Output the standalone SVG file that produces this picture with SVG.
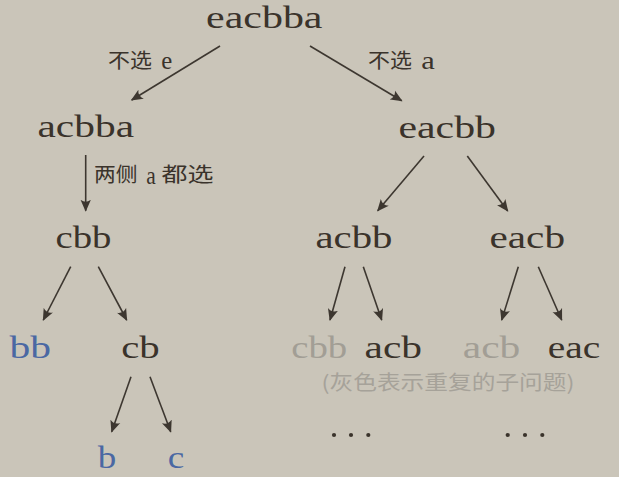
<svg xmlns="http://www.w3.org/2000/svg" width="619" height="477" viewBox="0 0 619 477">
  <style>
    .n { font-family: "Liberation Serif", "Times New Roman", serif; font-size: 32px; fill: #3a332b; }
    .blue { fill: #4a68a3; }
    .dup { fill: #a29e95; }
    .cjk { font-family: "Noto Sans CJK SC", "Noto Sans", sans-serif; font-size: 20px; fill: #3a332b; }
    .lat { font-family: "Liberation Serif", "Times New Roman", serif; font-size: 25px; fill: #3a332b; }
    .cap { font-family: "Noto Sans CJK SC", "Noto Sans", sans-serif; font-size: 20px; fill: #a6a299; }
    .e { stroke: #3d3730; stroke-width: 1.6; fill: none; marker-end: url(#ah); }
    .dot { fill: #3a332b; }
  </style>
  <defs>
    <marker id="ah" markerUnits="userSpaceOnUse" markerWidth="16" markerHeight="12" refX="11" refY="6" orient="auto" viewBox="0 0 16 12">
      <path d="M12,6 L0,0.8 Q4,6 0,11.2 Z" fill="#3d3730"/>
    </marker>
  </defs>
  <rect width="619" height="477" fill="#cac5b9"/>

  <g id="connectors">
    <line class="e" x1="220" y1="46" x2="131.7" y2="100"/>
    <line class="e" x1="310" y1="46" x2="401.7" y2="100.7"/>
    <line class="e" x1="85.7" y1="155" x2="85.7" y2="210.7"/>
    <line class="e" x1="424" y1="156" x2="377.7" y2="210.7"/>
    <line class="e" x1="467.3" y1="156" x2="507.7" y2="211"/>
    <line class="e" x1="70.7" y1="266.7" x2="43.3" y2="320"/>
    <line class="e" x1="98.3" y1="266.7" x2="126.7" y2="320"/>
    <line class="e" x1="345" y1="266.7" x2="330" y2="320"/>
    <line class="e" x1="363.3" y1="266.7" x2="381.7" y2="320"/>
    <line class="e" x1="518.3" y1="266.7" x2="501.7" y2="320"/>
    <line class="e" x1="538.3" y1="266.7" x2="561.7" y2="320"/>
    <line class="e" x1="131" y1="376.7" x2="111.7" y2="431.7"/>
    <line class="e" x1="150" y1="376.7" x2="170.7" y2="431.7"/>
  </g>

  <g id="edge-labels">
    <g id="label-skip-e">
      <text class="cjk" x="108" y="67.5" textLength="44" lengthAdjust="spacingAndGlyphs">不选</text>
      <text class="lat" x="161.2" y="69" textLength="11" lengthAdjust="spacingAndGlyphs">e</text>
    </g>
    <g id="label-skip-a">
      <text class="cjk" x="368" y="67.5" textLength="44" lengthAdjust="spacingAndGlyphs">不选</text>
      <text class="lat" x="421.2" y="69" textLength="13.5" lengthAdjust="spacingAndGlyphs">a</text>
    </g>
    <g id="label-both-a">
      <text class="cjk" x="94" y="182" textLength="43.5" lengthAdjust="spacingAndGlyphs">两侧</text>
      <text class="lat" x="146.2" y="183.5" textLength="9.5" lengthAdjust="spacingAndGlyphs">a</text>
      <text class="cjk" x="161.5" y="182" textLength="52" lengthAdjust="spacingAndGlyphs">都选</text>
    </g>
  </g>

  <g id="node-eacbba"><text class="n" x="206" y="28.3" textLength="116.5" lengthAdjust="spacingAndGlyphs">eacbba</text></g>
  <g id="node-acbba"><text class="n" x="37.5" y="137" textLength="96.5" lengthAdjust="spacingAndGlyphs">acbba</text></g>
  <g id="node-eacbb"><text class="n" x="398.5" y="137.7" textLength="97.5" lengthAdjust="spacingAndGlyphs">eacbb</text></g>
  <g id="node-cbb"><text class="n" x="55.5" y="248" textLength="56" lengthAdjust="spacingAndGlyphs">cbb</text></g>
  <g id="node-acbb"><text class="n" x="315.5" y="247.7" textLength="77" lengthAdjust="spacingAndGlyphs">acbb</text></g>
  <g id="node-eacb"><text class="n" x="489.5" y="247.7" textLength="75.5" lengthAdjust="spacingAndGlyphs">eacb</text></g>
  <g id="node-bb"><text class="n blue" x="9.5" y="357.7" textLength="41.5" lengthAdjust="spacingAndGlyphs">bb</text></g>
  <g id="node-cb"><text class="n" x="121.2" y="357.7" textLength="38.5" lengthAdjust="spacingAndGlyphs">cb</text></g>
  <g id="node-cbb-dup"><text class="n dup" x="291.2" y="357.7" textLength="56" lengthAdjust="spacingAndGlyphs">cbb</text></g>
  <g id="node-acb"><text class="n" x="364.5" y="357.7" textLength="57.5" lengthAdjust="spacingAndGlyphs">acb</text></g>
  <g id="node-acb-dup"><text class="n dup" x="462.8" y="357.7" textLength="57.5" lengthAdjust="spacingAndGlyphs">acb</text></g>
  <g id="node-eac"><text class="n" x="547.8" y="357.7" textLength="52.5" lengthAdjust="spacingAndGlyphs">eac</text></g>
  <g id="node-b"><text class="n blue" x="97.8" y="468.3" textLength="18.5" lengthAdjust="spacingAndGlyphs">b</text></g>
  <g id="node-c"><text class="n blue" x="167.8" y="468.3" textLength="16.5" lengthAdjust="spacingAndGlyphs">c</text></g>

  <g id="caption"><text class="cap" x="321.5" y="390" textLength="253" lengthAdjust="spacingAndGlyphs">(灰色表示重复的子问题)</text></g>

  <g id="ellipsis-left">
    <circle class="dot" cx="334" cy="435" r="2.1"/>
    <circle class="dot" cx="351" cy="435" r="2.1"/>
    <circle class="dot" cx="368.3" cy="435" r="2.1"/>
  </g>
  <g id="ellipsis-right">
    <circle class="dot" cx="507.7" cy="435" r="2.1"/>
    <circle class="dot" cx="525" cy="435" r="2.1"/>
    <circle class="dot" cx="542.3" cy="435" r="2.1"/>
  </g>
</svg>
